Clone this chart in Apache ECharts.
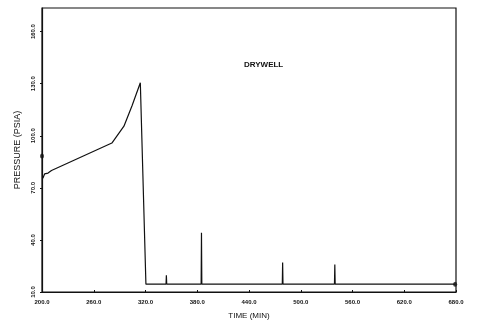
<!DOCTYPE html>
<html><head><meta charset="utf-8">
<script src="https://cdn.jsdelivr.net/npm/echarts@6/dist/echarts.min.js"></script>
<style>html,body{margin:0;padding:0;background:#fff}#c{width:477px;height:325px}</style>
</head><body><div id="c"></div>
<script>
// Data (time in minutes, pressure in psia)
const times = [201, 203, 207, 211, 281, 295, 304.5, 314, 320.5,
  343.8, 344.2, 344.6,
  384.5, 384.9, 385.3,
  478.6, 479, 479.4,
  539.1, 539.5, 539.9,
  679];
const pressures = [75.5, 78, 78.5, 80, 95.8, 105.5, 117.4, 130.5, 14.5,
  14.5, 19.7, 14.5,
  14.5, 44.1, 14.5,
  14.5, 27, 14.5,
  14.5, 25.9, 14.5,
  14.5];
const markerTimes = [200, 679];
const markerPressures = [88.4, 14.5];
const xTicks = [200, 260, 320, 380, 440, 500, 560, 620, 680];
const yTicks = [10, 40, 70, 100, 130, 160];
const titleText = 'DRYWELL';
const xName = 'TIME (MIN)';
const yName = 'PRESSURE (PSIA)';

const chart = echarts.init(document.getElementById('c'), null, {renderer: 'canvas'});
const fnt = 'Liberation Sans';
chart.setOption({
  animation: false,
  backgroundColor: '#fff',
  title: {text: titleText, left: 239, top: 56,
    textStyle: {fontFamily: fnt, fontSize: 8, fontWeight: 'bold', color: '#111'}},
  grid: {left: 42, right: 21, top: 8, bottom: 28, show: true, borderColor: '#111', borderWidth: 1.2},
  xAxis: {type: 'value', min: xTicks[0], max: xTicks[xTicks.length - 1], interval: 60,
    name: xName, nameLocation: 'middle', nameGap: 20,
    nameTextStyle: {fontFamily: fnt, fontSize: 8, color: '#111'},
    axisLine: {show: true, lineStyle: {color: '#111', width: 1.2}},
    axisTick: {show: true, inside: true, length: 2, lineStyle: {color: '#111'}},
    axisLabel: {fontFamily: fnt, fontSize: 6, fontWeight: 'bold', color: '#111', margin: 7,
      formatter: v => v.toFixed(1)},
    splitLine: {show: false}},
  yAxis: {type: 'value', min: yTicks[0], max: 173.6, interval: 30,
    name: yName, nameLocation: 'middle', nameGap: 19, nameRotate: 90,
    nameTextStyle: {fontFamily: fnt, fontSize: 9, color: '#111'},
    axisLine: {show: true, lineStyle: {color: '#111', width: 1.2}},
    axisTick: {show: true, length: 2, lineStyle: {color: '#111'}},
    axisLabel: {fontFamily: fnt, fontSize: 6, fontWeight: 'bold', color: '#111', rotate: 90, margin: 6,
      showMaxLabel: false,
      formatter: v => v.toFixed(1)},
    splitLine: {show: false}},
  series: [
    {type: 'line', data: times.map((t, i) => [t, pressures[i]]), showSymbol: false,
      lineStyle: {color: '#111', width: 1.2}},
    {type: 'scatter', data: markerTimes.map((t, i) => [t, markerPressures[i]]),
      symbolSize: [4, 5], itemStyle: {color: '#111'}}
  ]
});
</script></body></html>
